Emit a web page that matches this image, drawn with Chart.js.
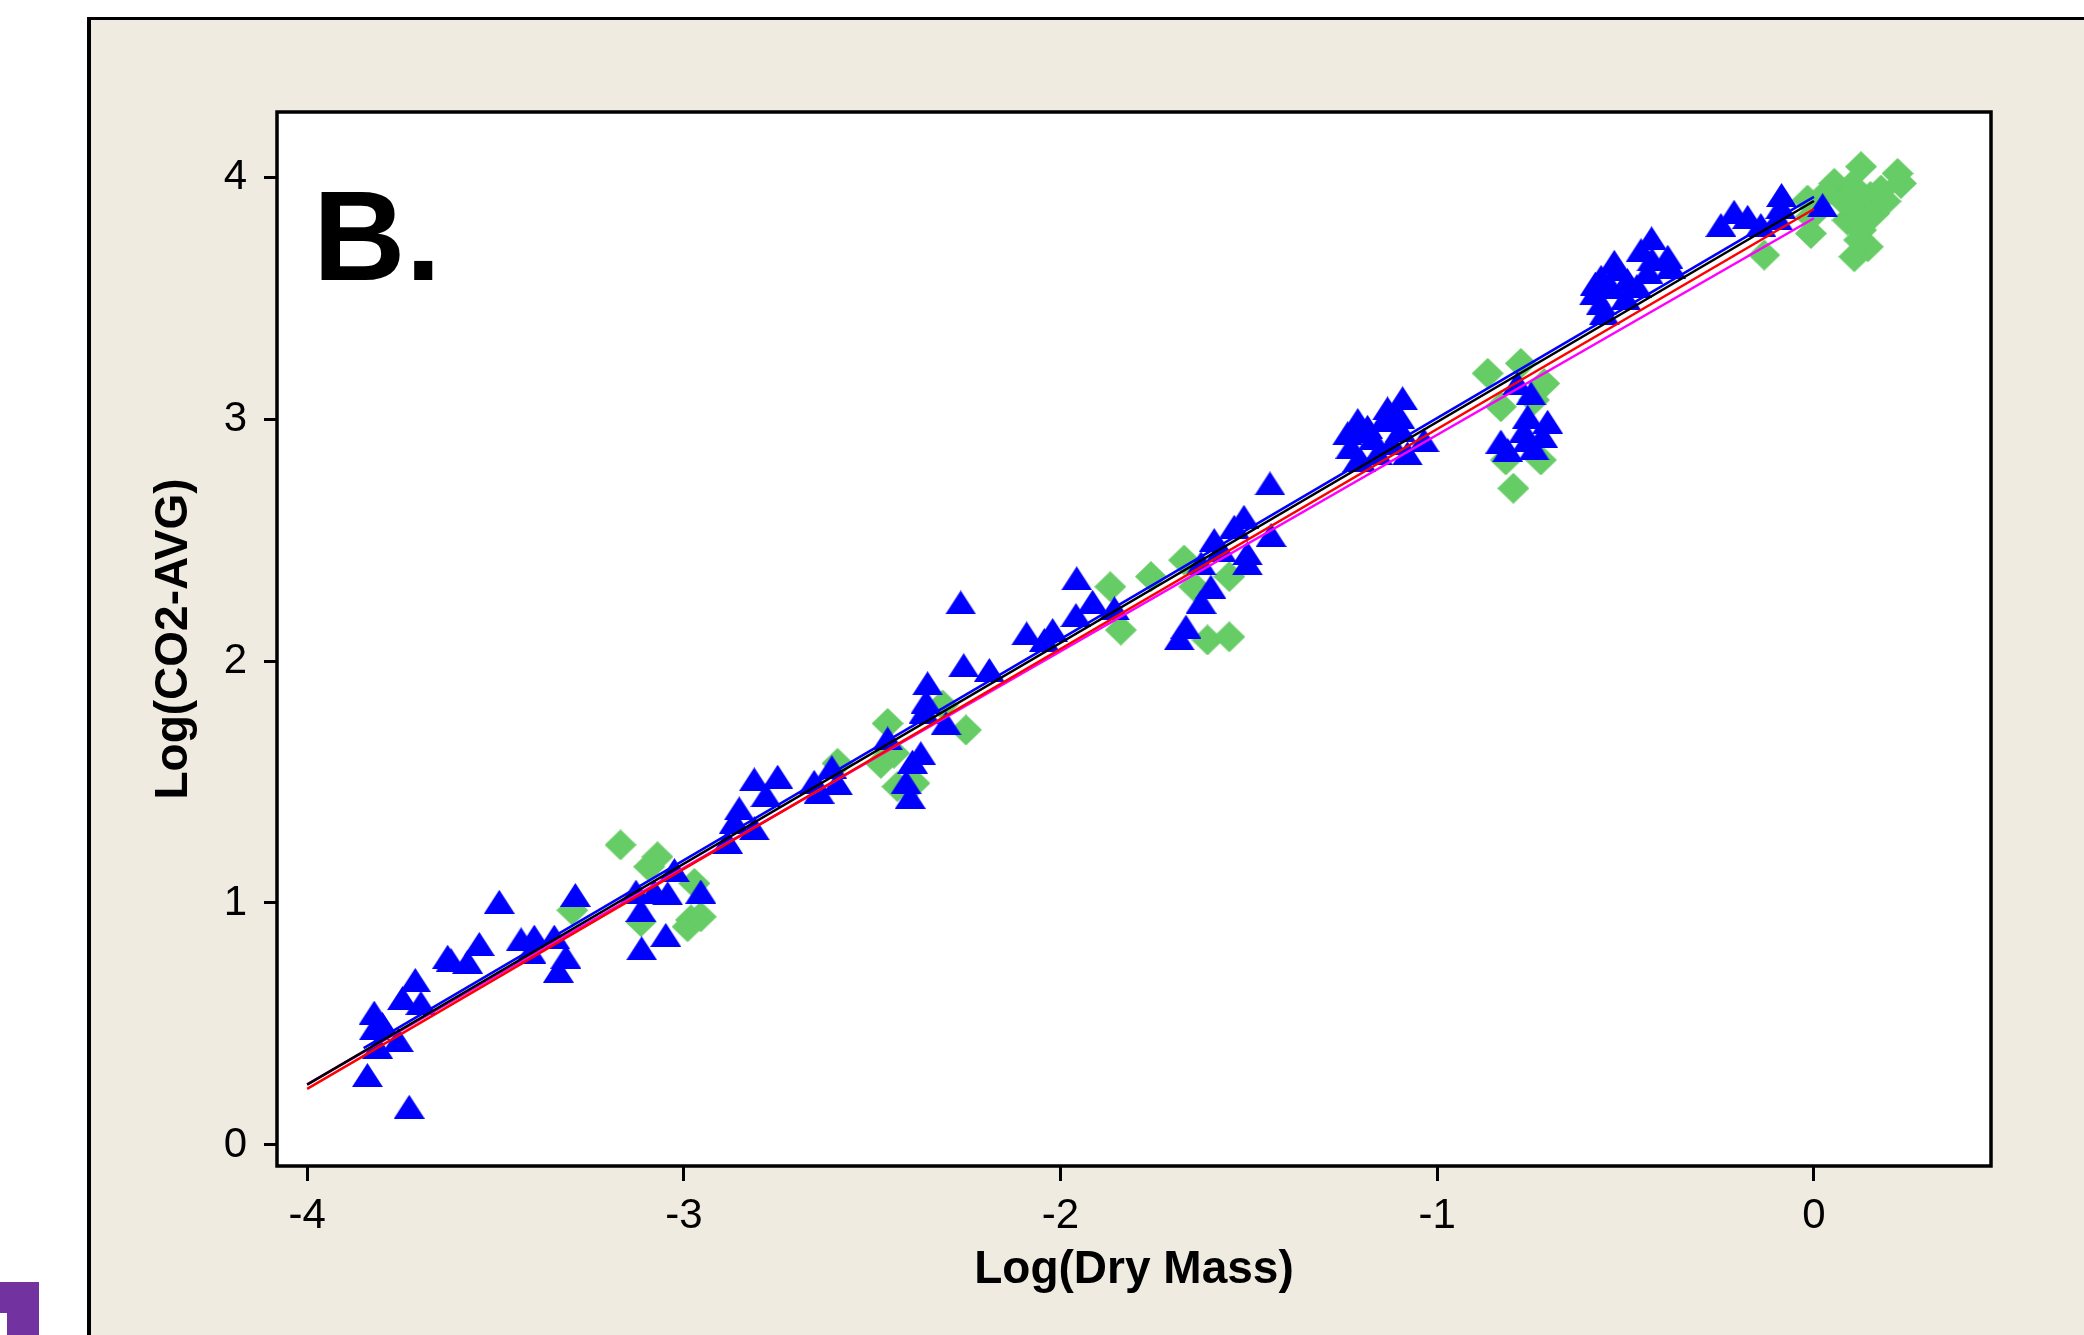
<!DOCTYPE html>
<html><head><meta charset="utf-8">
<script src="https://cdn.jsdelivr.net/npm/chart.js@4.4.1/dist/chart.umd.min.js"></script>
<style>
html,body{margin:0;padding:0;background:#fff;width:2084px;height:1335px;overflow:hidden;}
#panel{position:absolute;left:87px;top:17px;width:2100px;height:1400px;background:#EFEBE1;border-left:4px solid #000;border-top:3px solid #000;box-sizing:border-box;}
#p1{position:absolute;left:0;top:1282px;width:39px;height:31px;background:#7233A0;}
#p2{position:absolute;left:7px;top:1313px;width:32px;height:22px;background:#7233A0;}
canvas{position:absolute;left:0;top:0;}
</style></head><body>
<div id="panel"></div><div id="p1"></div><div id="p2"></div>
<canvas id="c" width="2084" height="1335"></canvas>
<script>
// ---- data ----
const blueX = [-3.729,-3.840,-3.822,-3.822,-3.758,-3.813,-3.713,-3.747,-3.698,-3.543,-3.618,-3.574,-3.627,-3.490,-3.432,-3.397,-3.344,-3.406,-3.313,-3.333,-3.288,-3.025,-3.127,-3.078,-3.043,-2.955,-3.114,-3.048,-3.112,-3.800,
  -2.853,-2.866,-2.813,-2.884,-2.813,-2.751,-2.782,-2.654,-2.592,-2.641,-2.607,-2.459,-2.371,-2.393,-2.353,-2.357,-2.362,-2.304,-2.399,-2.257,-2.189,-2.090,-2.265,-2.410,
  -2.021,-2.043,-1.959,-1.957,-1.915,-1.857,-1.667,-1.685,-1.627,-1.601,-1.592,-1.539,-1.513,-1.441,-1.504,-1.504,-1.627,-1.574,-1.444,-1.203,
  -1.092,-1.132,-1.211,-1.238,-1.185,-1.141,-1.097,-1.229,-1.211,-1.158,-1.079,-1.035,-1.170,-1.120,-1.200,-1.100,
  -0.787,-0.751,-0.760,-0.707,-0.831,-0.760,-0.743,-0.813,-0.770,-0.720,
  -0.431,-0.530,-0.459,-0.388,-0.565,-0.495,-0.441,-0.380,-0.583,-0.539,-0.565,-0.557,-0.520,-0.470,-0.500,-0.580,-0.430,
  -0.212,-0.176,-0.247,-0.141,-0.086,-0.088,-0.096,0.023];
const blueY = [0.158,0.289,0.547,0.482,0.434,0.406,0.682,0.607,0.587,0.831,0.764,0.757,0.778,1.005,0.850,0.861,0.861,0.799,0.778,0.720,1.033,1.136,1.047,1.047,1.040,1.047,0.971,0.868,0.813,0.500,
  1.391,1.336,1.309,1.253,1.511,1.522,1.446,1.501,1.495,1.460,1.561,1.680,1.619,1.584,1.908,1.832,1.791,1.743,1.439,1.983,1.963,2.114,2.242,1.500,
  2.128,2.087,2.190,2.342,2.245,2.218,2.142,2.094,2.245,2.307,2.500,2.555,2.596,2.521,2.404,2.445,2.404,2.459,2.734,2.831,
  3.086,3.044,2.996,2.941,2.968,2.996,2.955,2.886,2.831,2.858,2.858,2.913,2.920,2.900,2.950,3.010,
  3.147,3.106,3.010,2.989,2.907,2.913,2.879,2.872,2.950,2.930,
  3.747,3.650,3.698,3.671,3.588,3.574,3.609,3.629,3.519,3.547,3.478,3.437,3.620,3.550,3.500,3.560,3.660,
  3.857,3.836,3.802,3.802,3.926,3.877,3.829,3.884];
const greenX = [-3.296,-3.168,-3.092,-3.070,-2.972,-2.981,-2.990,-2.955,-3.114,
  -2.592,-2.459,-2.477,-2.442,-2.433,-2.388,-2.251,-2.313,
  -1.868,-1.840,-1.760,-1.672,-1.645,-1.552,-1.610,-1.552,
  -0.866,-0.778,-0.716,-0.831,-0.743,-0.818,-0.725,-0.798,
  -0.132,-0.008,-0.017,0.125,0.054,0.098,0.178,0.231,0.222,0.125,0.160,0.089,0.125,0.143,0.107,-0.008,
  0.080,0.150,0.110,0.190,0.030,0.120];
const greenY = [0.970,1.240,1.150,1.191,1.081,0.930,0.902,0.943,0.923,
  1.577,1.742,1.577,1.619,1.481,1.495,1.715,1.818,
  2.307,2.128,2.349,2.417,2.307,2.349,2.087,2.100,
  3.189,3.230,3.147,3.051,3.079,2.831,2.831,2.714,
  3.678,3.767,3.905,4.043,3.974,3.961,3.946,3.974,4.015,3.877,3.850,3.822,3.781,3.712,3.671,3.836,
  3.900,3.920,3.950,3.900,3.930,3.740];
// fitted lines (end points)
const fitX = [-4.0, 0.0];
const fitBlackY = [0.249, 3.901];
const fitRedY = [0.232, 3.868];
const fitMagentaY = [0.250, 3.830];
const fitBlueX = [-3.85, 0.0];
const fitBlueY = [0.400, 3.918];
// axes
const xTicks = [-4, -3, -2, -1, 0];
const yTicks = [0, 1, 2, 3, 4];
const xRange = [-4.080, 0.470];
const yRange = [-0.087, 4.269];
const xTitle = 'Log(Dry Mass)';
const yTitle = 'Log(CO2-AVG)';
const panelLabel = 'B.';

// ---- marker images ----
function triImg(color){
  const c = document.createElement('canvas'); c.width = 31; c.height = 24;
  const g = c.getContext('2d'); g.fillStyle = color;
  g.beginPath(); g.moveTo(15.5,0); g.lineTo(31,24); g.lineTo(0,24); g.closePath(); g.fill();
  return c;
}
function diaImg(color){
  const c = document.createElement('canvas'); c.width = 32; c.height = 31;
  const g = c.getContext('2d'); g.fillStyle = color;
  g.beginPath(); g.moveTo(16,0); g.lineTo(32,15.5); g.lineTo(16,31); g.lineTo(0,15.5); g.closePath(); g.fill();
  return c;
}
const pts = (xs, ys) => xs.map((x, i) => ({x: x, y: ys[i]}));

const framePlugin = {
  id: 'frame',
  beforeDraw(chart){
    const {ctx, chartArea: a} = chart;
    ctx.save(); ctx.fillStyle = '#fff';
    ctx.fillRect(a.left, a.top, a.right - a.left, a.bottom - a.top); ctx.restore();
  },
  afterDraw(chart){
    const {ctx, chartArea: a} = chart;
    ctx.save();
    ctx.strokeStyle = '#000'; ctx.lineWidth = 3.5;
    ctx.strokeRect(a.left, a.top, a.right - a.left, a.bottom - a.top);
    ctx.fillStyle = '#000';
    ctx.font = 'bold 128px "Liberation Sans", Arial, sans-serif';
    ctx.textBaseline = 'alphabetic'; ctx.textAlign = 'left';
    ctx.fillText(panelLabel, a.left + 36, a.top + 168);
    ctx.restore();
  }
};

Chart.defaults.font.family = '"Liberation Sans", Arial, sans-serif';
Chart.defaults.color = '#000';

const lineDs = (label, xs, ys, color) => ({
  type: 'line', label: label, data: pts(xs, ys), borderColor: color, backgroundColor: color,
  borderWidth: 2.5, pointRadius: 0, fill: false, tension: 0, showLine: true
});

new Chart(document.getElementById('c'), {
  type: 'scatter',
  data: {
    datasets: [
      lineDs('black fit', fitX, fitBlackY, '#000000'),
      lineDs('red fit', fitX, fitRedY, '#FF0000'),
      lineDs('magenta fit', fitX, fitMagentaY, '#FF00FF'),
      lineDs('blue fit', fitBlueX, fitBlueY, '#0000FF'),
      {label: 'triangles', data: pts(blueX, blueY), pointStyle: triImg('#0000FF'), pointRadius: 16, backgroundColor: '#0000FF', borderWidth: 0},
      {label: 'diamonds', data: pts(greenX, greenY), pointStyle: diaImg('#66CC66'), pointRadius: 16, backgroundColor: '#66CC66', borderWidth: 0}
    ]
  },
  options: {
    responsive: false, animation: false, devicePixelRatio: 1,
    layout: {padding: {left: 0, top: 112, right: 93, bottom: 0}},
    plugins: {legend: {display: false}, tooltip: {enabled: false}},
    scales: {
      x: {
        type: 'linear', position: 'bottom', min: xRange[0], max: xRange[1],
        afterBuildTicks: s => { s.ticks = xTicks.map(v => ({value: v})); },
        afterFit: s => { s.height = 169; },
        grid: {display: true, drawOnChartArea: false, drawTicks: true, tickLength: 15, tickWidth: 3, tickColor: '#000'},
        border: {display: false},
        ticks: {color: '#000', font: {size: 42}, padding: 10, maxRotation: 0, autoSkip: false, callback: v => String(v)},
        title: {display: true, text: xTitle, color: '#000', font: {size: 46, weight: 'bold'}, padding: {top: 0, bottom: 37}}
      },
      y: {
        type: 'linear', position: 'left', min: yRange[0], max: yRange[1],
        afterBuildTicks: s => { s.ticks = yTicks.map(v => ({value: v})); },
        afterFit: s => { s.width = 277; },
        grid: {display: true, drawOnChartArea: false, drawTicks: true, tickLength: 13, tickWidth: 3, tickColor: '#000'},
        border: {display: false},
        ticks: {color: '#000', font: {size: 42}, padding: 17, autoSkip: false, callback: v => String(v)},
        title: {display: true, text: yTitle, color: '#000', font: {size: 46, weight: 'bold'}, padding: {top: 147, bottom: 0}}
      }
    }
  },
  plugins: [framePlugin]
});
</script></body></html>
